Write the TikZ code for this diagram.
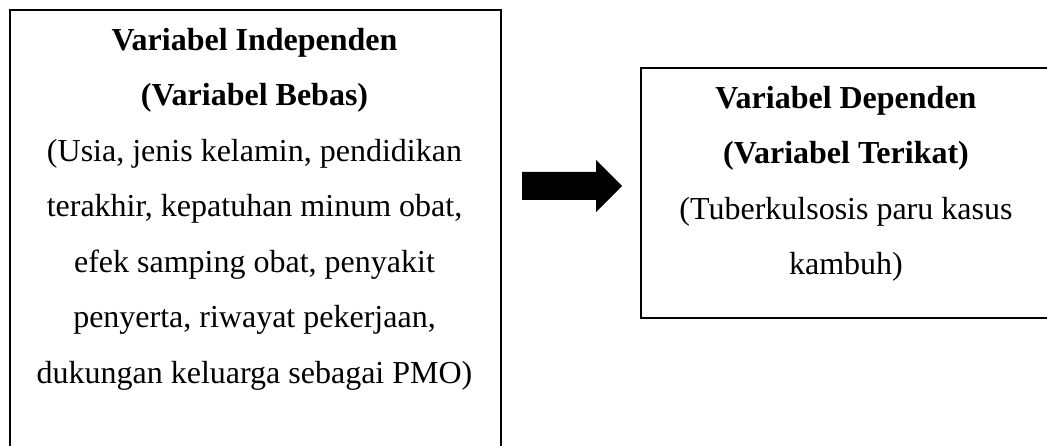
\documentclass[tikz,border=0pt]{standalone}
\usepackage{fontspec}
\setmainfont{Liberation Serif}

\tikzstyle{frame}=[draw, line width=1.6pt]
\tikzstyle{label}=[align=center, inner sep=0pt, anchor=north, font=\fontsize{32}{55.5}\selectfont]

\begin{document}
\begin{tikzpicture}[x=1pt,y=-1pt]
            \useasboundingbox (0,0) rectangle (1047,446);
            \clip (0,0) rectangle (1047,446);
            \node[frame, anchor=north west, minimum width=491pt, minimum height=470pt] at (9,9) (IV) {};
            \node[frame, anchor=north west, minimum width=413pt, minimum height=250pt] at (640,67) (DV) {};
            \node[label] at (254.5,28) (IVtext) {\textbf{Variabel Independen}\\ \textbf{(Variabel Bebas)}\\ (Usia, jenis kelamin, pendidikan\\ terakhir, kepatuhan minum obat,\\ efek samping obat, penyakit\\ penyerta, riwayat pekerjaan,\\ dukungan keluarga sebagai PMO)};
            \node[label] at (846,86) (DVtext) {\textbf{Variabel Dependen}\\ \textbf{(Variabel Terikat)}\\ (Tuberkulsosis paru kasus\\ kambuh)};
            \coordinate (tail) at (522,186);
            \coordinate (tip) at (622,186);
            \fill (tail) ++(0,-14) -- ++(74,0) -- ++(0,-12) -- (tip) -- ++(-26,26) -- ++(0,-12) -- ++(-74,0) -- cycle;
        \end{tikzpicture}
\end{document}
